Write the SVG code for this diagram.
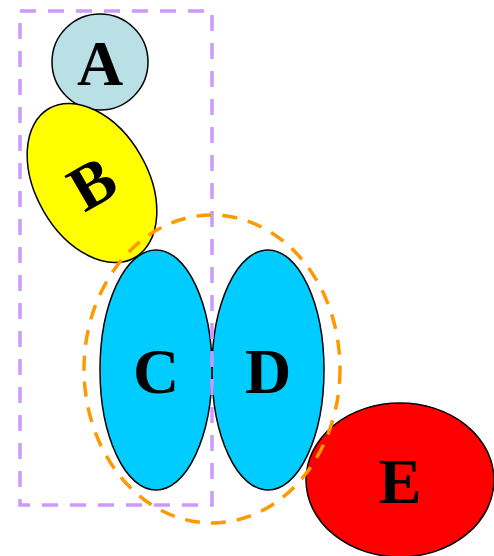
<svg xmlns="http://www.w3.org/2000/svg" width="494" height="556" viewBox="0 0 494 556">
<style>
.n{stroke:#000;stroke-width:1.5}
.t{font-family:"Liberation Serif","Times New Roman",serif;font-weight:bold;font-size:64px;text-anchor:middle;fill:#000}
.cl{fill:none;stroke-width:3.5}
</style>
<rect width="494" height="556" fill="#fff"/>
<g id="nodeA"><circle class="n" cx="100" cy="62" r="48" fill="#b9e0e5"/><text class="t" x="100" y="85">A</text></g>
<g id="nodeB"><ellipse class="n" cx="92" cy="183" rx="56" ry="86" transform="rotate(-30 92 183)" fill="#ffff00"/><text class="t" x="92" y="205" transform="rotate(-30 92 183)">B</text></g>
<g id="nodeC"><ellipse class="n" cx="156" cy="370" rx="56" ry="120" fill="#00ccff"/><text class="t" x="156" y="393">C</text></g>
<g id="nodeD"><ellipse class="n" cx="268" cy="370" rx="56" ry="120" fill="#00ccff"/><text class="t" x="268" y="393">D</text></g>
<g id="nodeE"><ellipse class="n" cx="400" cy="480" rx="94" ry="77" fill="#ff0000"/><text class="t" x="400" y="503">E</text></g>
<g id="connectors"></g>
<g id="clusters">
<rect class="cl" x="20" y="11" width="192" height="494" stroke="#cc99ff" stroke-dasharray="16,12"/>
<ellipse class="cl" cx="212" cy="369" rx="128" ry="154" stroke="#ff9900" stroke-dasharray="15,11"/>
</g>
</svg>
